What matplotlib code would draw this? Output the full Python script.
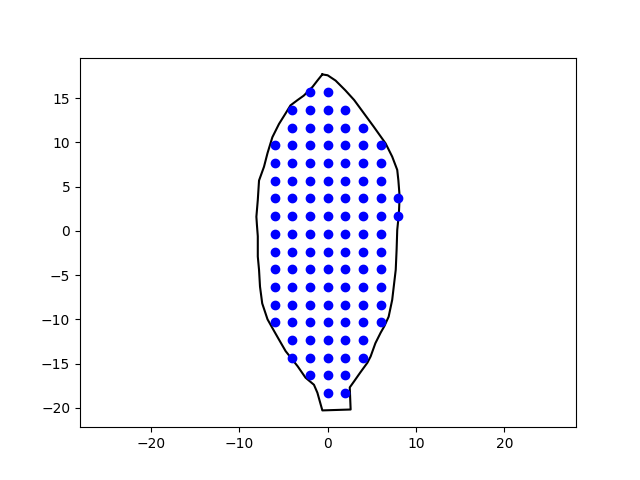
import matplotlib
matplotlib.use("Agg")
import matplotlib.pyplot as plt

# Outline of the leaf (closed polygon)
outline_x = [-0.6, 0.0, 0.9, 2.0, 3.0, 4.1, 5.2, 6.55, 7.3, 7.87, 8.0, 8.14, 8.06, 7.87, 7.8,
             7.7, 7.57, 7.3, 6.9, 6.4, 6.0, 5.4, 4.86, 4.5, 3.7, 3.0, 2.5, 2.6, -0.6,
             -1.16, -1.55, -2.5, -3.4, -4.75, -5.5, -6.07, -6.8, -7.4, -7.65, -7.76, -7.9,
             -7.9, -8.0, -8.06, -7.9, -7.76, -7.2, -6.8, -6.25, -5.5, -4.75, -4.2, -3.4,
             -2.7, -1.7, -1.16, -0.6]
outline_y = [17.7, 17.6, 17.0, 15.9, 14.8, 13.3, 11.8, 9.9, 8.4, 6.9, 5.7, 3.9, 2.0, 0.1, -2.1,
             -4.4, -5.5, -7.8, -9.7, -10.8, -11.5, -12.7, -14.2, -14.9, -16.0, -17.0, -17.7, -20.2, -20.3,
             -18.3, -17.4, -16.6, -15.3, -13.6, -12.3, -11.3, -10.0, -8.2, -6.3, -4.4, -2.9,
             -0.6, 0.7, 1.6, 3.5, 5.7, 7.25, 8.8, 10.6, 12.1, 13.3, 14.2, 14.8,
             15.3, 16.3, 17.0, 17.7]

# Grid points inside the leaf, one row at a time
row_y = [15.67, 13.67, 11.67, 9.67, 7.67, 5.67, 3.67, 1.67, -0.33, -2.33,
         -4.33, -6.33, -8.33, -10.33, -12.33, -14.33, -16.33, -18.33]
row_x = [
    [-2, 0],
    [-4, -2, 0, 2],
    [-4, -2, 0, 2, 4],
    [-6, -4, -2, 0, 2, 4, 6],
    [-6, -4, -2, 0, 2, 4, 6],
    [-6, -4, -2, 0, 2, 4, 6],
    [-6, -4, -2, 0, 2, 4, 6, 8],
    [-6, -4, -2, 0, 2, 4, 6, 8],
    [-6, -4, -2, 0, 2, 4, 6],
    [-6, -4, -2, 0, 2, 4, 6],
    [-6, -4, -2, 0, 2, 4, 6],
    [-6, -4, -2, 0, 2, 4, 6],
    [-6, -4, -2, 0, 2, 4, 6],
    [-6, -4, -2, 0, 2, 4, 6],
    [-4, -2, 0, 2, 4],
    [-4, -2, 0, 2, 4],
    [-2, 0, 2],
    [0, 2],
]

pts_x = [x for xs in row_x for x in xs]
pts_y = [y for xs, y in zip(row_x, row_y) for _ in xs]

fig, ax = plt.subplots(figsize=(6.4, 4.8), dpi=100)
ax.plot(outline_x, outline_y, 'k-')
ax.plot(pts_x, pts_y, 'bo')
ax.axis('equal')
fig.savefig("out.png")
